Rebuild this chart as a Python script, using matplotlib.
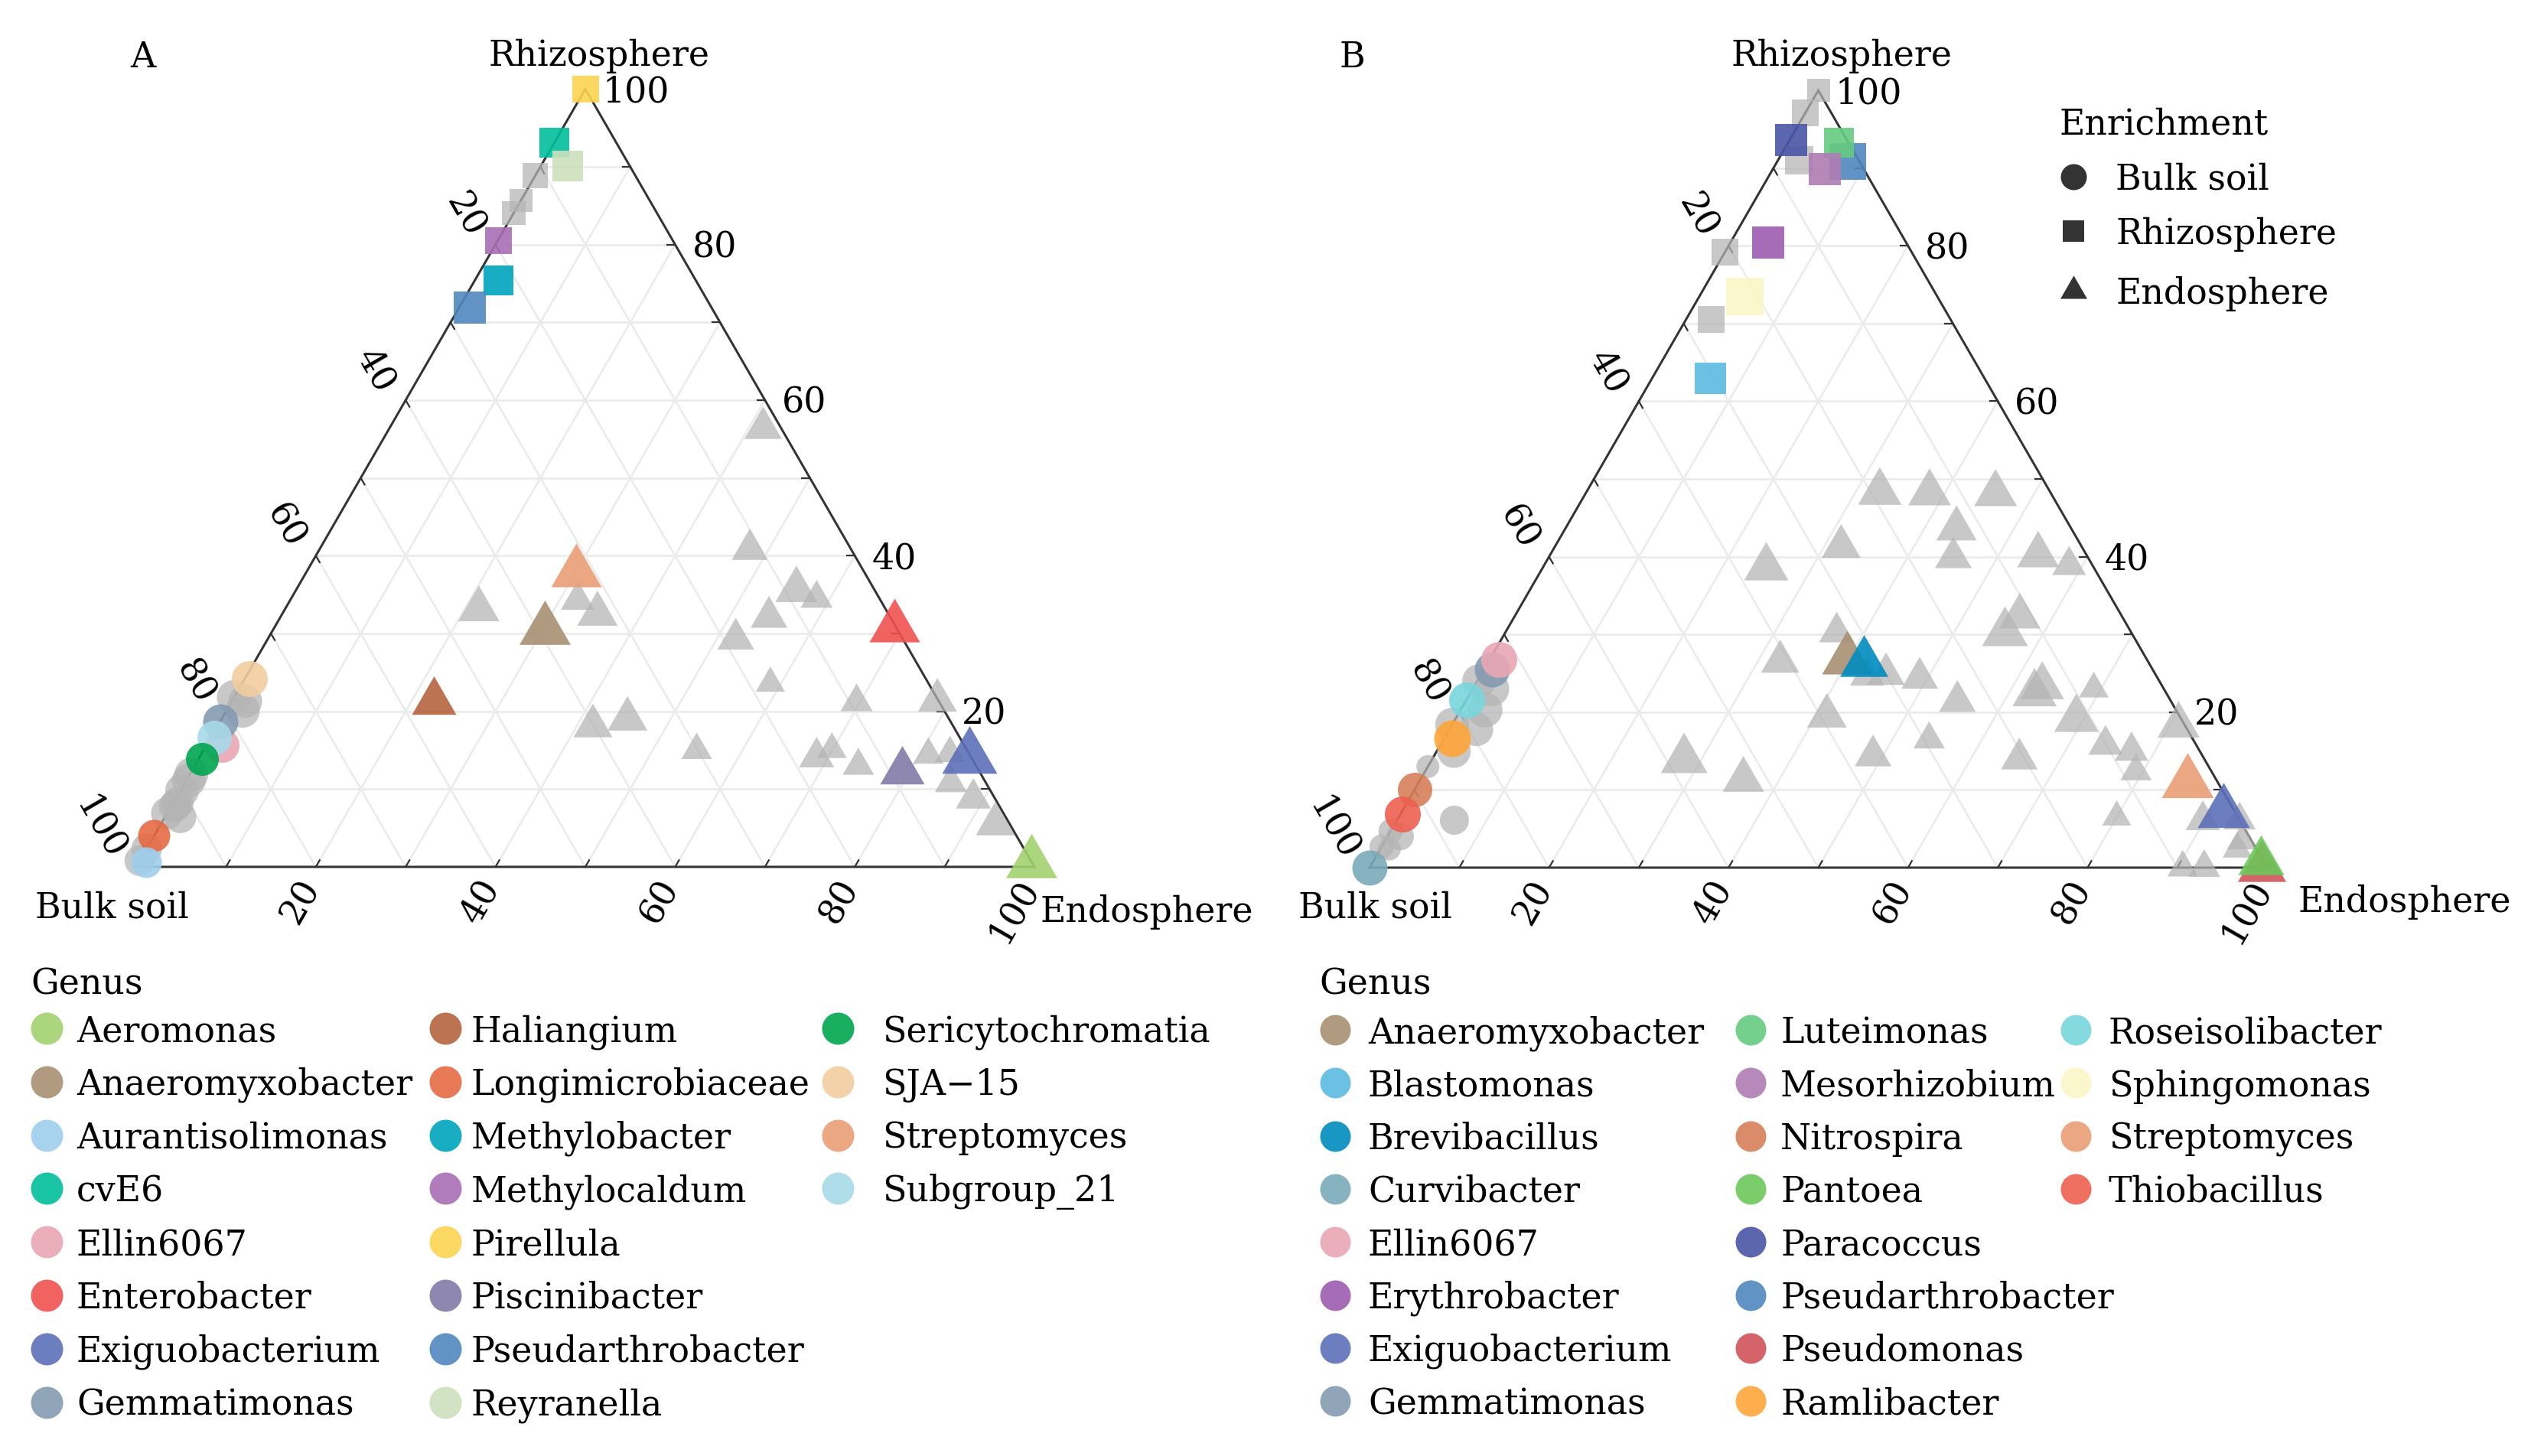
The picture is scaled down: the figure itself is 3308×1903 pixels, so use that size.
import numpy as np
import matplotlib
matplotlib.use('Agg')
import matplotlib.pyplot as plt
from matplotlib.path import Path

# ======================= DATA (percentages) =======================
# Panel A – coloured genera (Rhizosphere %, Endosphere %, relative abundance)
A_genus = ['Pirellula', 'cvE6', 'Reyranella', 'Methylocaldum', 'Methylobacter', 'Pseudarthrobacter',
           'SJA\u221215', 'Ellin6067', 'Gemmatimonas', 'Subgroup_21', 'Sericytochromatia',
           'Longimicrobiaceae', 'Aurantisolimonas',
           'Streptomyces', 'Anaeromyxobacter', 'Haliangium', 'Enterobacter', 'Piscinibacter',
           'Exiguobacterium', 'Aeromonas']
A_enrich = ['Rhizosphere'] * 6 + ['Bulk soil'] * 7 + ['Endosphere'] * 7
A_rhizo = [100, 93.1, 90.1, 80.6, 75.4, 71.9, 24.2, 15.6, 18.7, 16.6, 13.9, 4.0, 0.6,
           37.9, 30.5, 21.2, 30.8, 12.3, 14.1, 0.5]
A_endo = [0, 0, 3.0, 0, 2.6, 1.2, 0.5, 1.7, 0, 0.4, 0.4, 0, 0.8,
          30.0, 30.2, 22.5, 69.0, 79.1, 85.7, 99.4]
A_abund = [3.5, 3.9, 4.0, 3.5, 3.9, 4.2, 4.7, 4.5, 4.6, 4.5, 4.3, 4.2, 4.0,
           6.6, 6.7, 5.8, 6.6, 5.8, 7.2, 6.7]

# Panel A – other genera (grey)
A_gray_sq_rhizo = [88.9, 85.7, 84.0]
A_gray_sq_endo = [0, 0, 0]
A_gray_sq_abund = [3.3, 3.0, 3.1]
A_gray_ci_rhizo = [21.8, 20.1, 21.3, 11.9, 11.1, 9.8, 8.2, 7.8, 6.4, 6.9, 2.3, 0.8]
A_gray_ci_endo = [0, 1.8, 1.5, 0.2, 0.3, 0.2, 0.5, 0.4, 1.7, 0, 0, 0]
A_gray_ci_abund = [4.5, 4.5, 4.4, 4.4, 4.4, 4.4, 4.2, 4.2, 4.2, 4.2, 4.0, 4.0]
A_gray_tr_rhizo = [56.4, 40.8, 35.6, 34.5, 32.1, 29.3, 23.6, 33.1, 34.3, 32.5, 18.1, 19.0,
                   15.0, 21.2, 21.4, 14.1, 15.1, 13.0, 14.4, 14.6, 10.8, 8.8, 5.5]
A_gray_tr_endo = [41.6, 47.9, 55.7, 58.5, 54.4, 52.1, 58.8, 21.6, 32.0, 35.1, 41.8, 45.2,
                  54.9, 69.6, 78.5, 68.7, 69.9, 73.9, 81.0, 83.3, 85.3, 88.8, 92.9]
A_gray_tr_abund = [4.9, 4.7, 5.5, 4.2, 4.8, 4.8, 3.8, 5.4, 4.4, 5.3, 5.1, 5.2,
                   4.0, 4.2, 5.1, 4.6, 3.9, 4.1, 4.0, 4.0, 4.2, 4.6, 5.1]

# Panel B – coloured genera
B_genus = ['Paracoccus', 'Pseudarthrobacter', 'Luteimonas', 'Mesorhizobium', 'Erythrobacter',
           'Sphingomonas', 'Blastomonas',
           'Gemmatimonas', 'Ellin6067', 'Roseisolibacter', 'Ramlibacter', 'Nitrospira',
           'Thiobacillus', 'Curvibacter',
           'Anaeromyxobacter', 'Brevibacillus', 'Streptomyces', 'Exiguobacterium',
           'Pseudomonas', 'Pantoea']
B_enrich = ['Rhizosphere'] * 7 + ['Bulk soil'] * 7 + ['Endosphere'] * 6
B_rhizo = [93.6, 90.9, 93.3, 89.9, 80.4, 73.5, 63.0,
           25.5, 26.8, 21.6, 16.6, 10.0, 6.9, 0,
           26.8, 26.4, 10.9, 7.1, 0, 0.8]
B_endo = [0.2, 7.8, 5.6, 5.8, 4.2, 5.0, 6.4,
          0.9, 1.0, 0, 0.9, 0, 0.2, 0,
          39.8, 41.9, 85.7, 91.6, 99.4, 98.9]
B_abund = [4.2, 4.8, 3.9, 4.2, 4.2, 4.9, 4.1,
           4.6, 4.7, 4.7, 4.8, 4.5, 4.7, 4.6,
           6.6, 6.3, 6.8, 6.8, 6.3, 6.0]

# Panel B – other genera (grey)
B_gray_sq_rhizo = [100, 97.1, 91.0, 79.2, 70.5]
B_gray_sq_endo = [0, 0, 2.4, 0, 2.8]
B_gray_sq_abund = [3.0, 3.5, 3.7, 3.5, 3.5]
B_gray_ci_rhizo = [23.0, 24.0, 20.3, 17.8, 18.4, 15.0, 13.0, 6.1, 4.0, 4.7, 2.7, 2.4]
B_gray_ci_endo = [2.1, 0.2, 2.7, 3.0, 0, 1.9, 0, 6.4, 1.4, 0, 0, 1.0]
B_gray_ci_abund = [4.6, 4.4, 4.6, 4.4, 4.4, 4.4, 3.0, 3.8, 3.6, 3.2, 3.2, 3.0]
B_gray_tr_rhizo = [48.3, 48.2, 48.1, 43.6, 39.9, 41.3, 38.6, 40.2, 38.9, 32.3,
                   30.2, 30.3, 24.9, 24.7, 24.4, 26.5, 21.4, 22.4, 23.3, 19.1,
                   19.5, 16.5, 14.4, 14.0, 13.9, 11.3, 23.0, 15.8, 15.0, 12.4,
                   6.5, 18.3, 6.1, 6.1, 2.4, 3.5, 0, 0]
B_gray_tr_endo = [32.7, 38.3, 45.7, 43.6, 45.1, 31.9, 24.9, 54.4, 58.5, 56.3,
                  55.7, 36.9, 45.1, 43.1, 49.1, 32.5, 54.8, 62.9, 63.3, 69.2,
                  41.2, 54.1, 48.9, 65.4, 28.1, 36.0, 69.2, 74.1, 77.4, 79.2,
                  80.0, 81.0, 89.8, 93.9, 95.5, 95.5, 90.6, 93.0]
B_gray_tr_abund = [5.7, 5.6, 5.6, 5.3, 4.8, 5.1, 5.8, 5.5, 4.4, 5.4,
                   6.0, 4.6, 4.9, 4.5, 4.8, 5.0, 4.8, 5.8, 5.7, 5.8,
                   5.2, 4.1, 4.8, 4.8, 6.1, 5.4, 3.9, 4.5, 4.4, 4.1,
                   3.8, 5.5, 4.5, 4.2, 3.9, 4.0, 4.0, 4.2]

# Legend categories
A_legend = ['Aeromonas', 'Anaeromyxobacter', 'Aurantisolimonas', 'cvE6', 'Ellin6067',
            'Enterobacter', 'Exiguobacterium', 'Gemmatimonas', 'Haliangium',
            'Longimicrobiaceae', 'Methylobacter', 'Methylocaldum', 'Pirellula',
            'Piscinibacter', 'Pseudarthrobacter', 'Reyranella', 'Sericytochromatia',
            'SJA\u221215', 'Streptomyces', 'Subgroup_21']
A_colors = ['#A2D270', '#A89073', '#9ECFEE', '#00BF9B', '#E9A7B5', '#F05250', '#5C70B9',
            '#859BB2', '#B4643E', '#E56A44', '#00A4BE', '#A86EB4', '#FAD450', '#827AA8',
            '#5088BE', '#CDE0BE', '#00A650', '#F2CCA0', '#E99E73', '#A8DAE8']
B_legend = ['Anaeromyxobacter', 'Blastomonas', 'Brevibacillus', 'Curvibacter', 'Ellin6067',
            'Erythrobacter', 'Exiguobacterium', 'Gemmatimonas', 'Luteimonas',
            'Mesorhizobium', 'Nitrospira', 'Pantoea', 'Paracoccus', 'Pseudarthrobacter',
            'Pseudomonas', 'Ramlibacter', 'Roseisolibacter', 'Sphingomonas',
            'Streptomyces', 'Thiobacillus']
B_colors = ['#A89073', '#5BBBE0', '#008CBE', '#7AAAB8', '#E9A7B5', '#9E5CB0', '#5C70B9',
            '#859BB2', '#66CB82', '#B07CB4', '#D6805A', '#6DC75A', '#4A55A5', '#5088BE',
            '#D0525A', '#FFA53A', '#78D6DD', '#FAF7C8', '#E99E73', '#EE6050']
enrich_levels = ['Bulk soil', 'Rhizosphere', 'Endosphere']
ticks = [20, 40, 60, 80, 100]

# ======================= STYLE =======================
W, H, DPI = 3308, 1903, 100
PT = 72.0 / DPI
FS = 33
GRAY, GRAY_ALPHA, COL_ALPHA = '#B4B4B4', 0.73, 0.9
EDGE, GRID = '#333333', '#EBEBEB'
SQ3 = np.sqrt(3) / 2
TRI = Path([(-0.5, -SQ3 / 3), (0.5, -SQ3 / 3), (0, 2 * SQ3 / 3), (-0.5, -SQ3 / 3)],
           [Path.MOVETO, Path.LINETO, Path.LINETO, Path.CLOSEPOLY])
MARK = {'Bulk soil': 'o', 'Rhizosphere': 's', 'Endosphere': TRI}

plt.rcParams['font.family'] = ['DejaVu Serif', 'DejaVu Sans']
plt.rcParams['text.color'] = 'black'


def tern_xy(r, e):
    r = np.asarray(r, float) / 100.0
    e = np.asarray(e, float) / 100.0
    return e + r / 2.0, r * SQ3


def s_of(enrich, width_px):
    w = np.asarray(width_px, float) * PT
    if enrich == 'Endosphere':
        w = w / SQ3
    return w ** 2


fig = plt.figure(figsize=(W / DPI, H / DPI), dpi=DPI)
fig.patch.set_facecolor('white')


def make_panel(bulk_px, L):
    x0, y0 = bulk_px
    xl, yl = (-0.14, 1.14), (-0.12, 0.96)
    left, right = x0 + xl[0] * L, x0 + xl[1] * L
    bot, top = y0 - yl[0] * L, y0 - yl[1] * L
    ax = fig.add_axes([left / W, 1 - bot / H, (right - left) / W, (bot - top) / H])
    ax.set_xlim(xl)
    ax.set_ylim(yl)
    ax.axis('off')
    return ax


def draw_panel(ax, L, genus, enrich, rhizo, endo, abund, legend, colors, grays):
    cmap = dict(zip(legend, colors))
    # grid
    for k in range(1, 10):
        f = k * 10
        for (r1, e1, r2, e2) in [(f, 0, f, 100 - f), (0, f, 100 - f, f), (100 - f, 0, 0, 100 - f)]:
            xs, ys = tern_xy([r1, r2], [e1, e2])
            ax.plot(xs, ys, color=GRID, lw=2.6 * PT, zorder=1, solid_capstyle='butt')
    # edges
    xs, ys = tern_xy([0, 100, 0, 0], [0, 0, 100, 0])
    ax.plot(xs, ys, color=EDGE, lw=3.0 * PT, zorder=2, solid_joinstyle='miter')
    # ticks
    tl = 10.0 / L
    for k in range(1, 10):
        f = k * 10
        x, y = tern_xy(f, 100 - f)
        ax.plot([x, x - tl], [y, y], color=EDGE, lw=2.2 * PT, zorder=2)
        x, y = tern_xy(100 - f, 0)
        ax.plot([x, x + 0.5 * tl], [y, y - SQ3 * tl], color=EDGE, lw=2.2 * PT, zorder=2)
        x, y = tern_xy(0, f)
        ax.plot([x, x + 0.5 * tl], [y, y + SQ3 * tl], color=EDGE, lw=2.2 * PT, zorder=2)
    # tick labels
    for t in ticks:
        lab = str(t)
        x, y = tern_xy(t, 100 - t)
        ax.text(x + 22 / L, y - 17 / L, lab, ha='left', va='baseline', fontsize=FS)
        x, y = tern_xy(100 - t, 0)
        ax.text(x - 25.5 / L, y + 12.9 / L, lab, ha='right', va='center', fontsize=FS,
                rotation=-60, rotation_mode='anchor')
        x, y = tern_xy(0, t)
        ax.text(x - 5.5 / L, y - 20 / L, lab, ha='right', va='center', fontsize=FS,
                rotation=60, rotation_mode='anchor')
    # grey points
    for en, (rr, ee, aa) in grays.items():
        x, y = tern_xy(rr, ee)
        ax.scatter(x, y, s=s_of(en, np.asarray(aa) * 10), marker=MARK[en], c=GRAY,
                   alpha=GRAY_ALPHA, linewidths=0, zorder=3, clip_on=False)
    # coloured points
    for g, en, rr, ee, aa in zip(genus, enrich, rhizo, endo, abund):
        x, y = tern_xy(rr, ee)
        ax.scatter([x], [y], s=s_of(en, aa * 10), marker=MARK[en], c=cmap[g],
                   alpha=COL_ALPHA, linewidths=0, zorder=4, clip_on=False)


axA = make_panel((178, 1133), 1174)
draw_panel(axA, 1174, A_genus, A_enrich, A_rhizo, A_endo, A_abund, A_legend, A_colors,
           {'Rhizosphere': (A_gray_sq_rhizo, A_gray_sq_endo, A_gray_sq_abund),
            'Bulk soil': (A_gray_ci_rhizo, A_gray_ci_endo, A_gray_ci_abund),
            'Endosphere': (A_gray_tr_rhizo, A_gray_tr_endo, A_gray_tr_abund)})
axB = make_panel((1790, 1134), 1173)
draw_panel(axB, 1173, B_genus, B_enrich, B_rhizo, B_endo, B_abund, B_legend, B_colors,
           {'Rhizosphere': (B_gray_sq_rhizo, B_gray_sq_endo, B_gray_sq_abund),
            'Bulk soil': (B_gray_ci_rhizo, B_gray_ci_endo, B_gray_ci_abund),
            'Endosphere': (B_gray_tr_rhizo, B_gray_tr_endo, B_gray_tr_abund)})

# ======================= overlay: titles & legends =======================
lax = fig.add_axes([0, 0, 1, 1])
lax.set_xlim(0, W)
lax.set_ylim(H, 0)
lax.axis('off')

lax.text(187, 88, 'A', ha='center', va='baseline', fontsize=FS)
lax.text(1767, 88, 'B', ha='center', va='baseline', fontsize=FS)
lax.text(783, 86, 'Rhizosphere', ha='center', va='baseline', fontsize=FS)
lax.text(2407, 86, 'Rhizosphere', ha='center', va='baseline', fontsize=FS)
lax.text(46, 1200, 'Bulk soil', ha='left', va='baseline', fontsize=FS)
lax.text(1697, 1200, 'Bulk soil', ha='left', va='baseline', fontsize=FS)
lax.text(1360, 1205, 'Endosphere', ha='left', va='baseline', fontsize=FS)
lax.text(3003, 1192, 'Endosphere', ha='left', va='baseline', fontsize=FS)

# Enrichment legend
lax.text(2691, 175, 'Enrichment', ha='left', va='baseline', fontsize=FS)
key_y = [231, 302, 380]
key_w = [34, 28, 35]
for en, ky, kw in zip(enrich_levels, key_y, key_w):
    lax.scatter([2710], [ky], s=s_of(en, kw), marker=MARK[en], c='#333333', linewidths=0)
    lax.text(2765, ky + 17, en, ha='left', va='baseline', fontsize=FS)


def genus_legend(title_x, key_xs, text_xs, row0, dy, names, cols, d):
    lax.text(title_x, 1300, 'Genus', ha='left', va='baseline', fontsize=FS)
    for i, (nm, cl) in enumerate(zip(names, cols)):
        c, r = divmod(i, 8)
        y = row0 + r * dy
        lax.scatter([key_xs[c]], [y], s=s_of('Bulk soil', d), marker='o', c=cl,
                    alpha=COL_ALPHA, linewidths=0)
        lax.text(text_xs[c], y + 17, nm, ha='left', va='baseline', fontsize=FS)


genus_legend(40, [61, 582, 1095], [100, 616, 1153], 1344, 69.8, A_legend, A_colors, 42)
genus_legend(1724, [1745, 2288, 2713], [1788, 2327, 2756], 1346, 69.3, B_legend, B_colors, 40)

fig.savefig('out.png', dpi=DPI, facecolor='white')
